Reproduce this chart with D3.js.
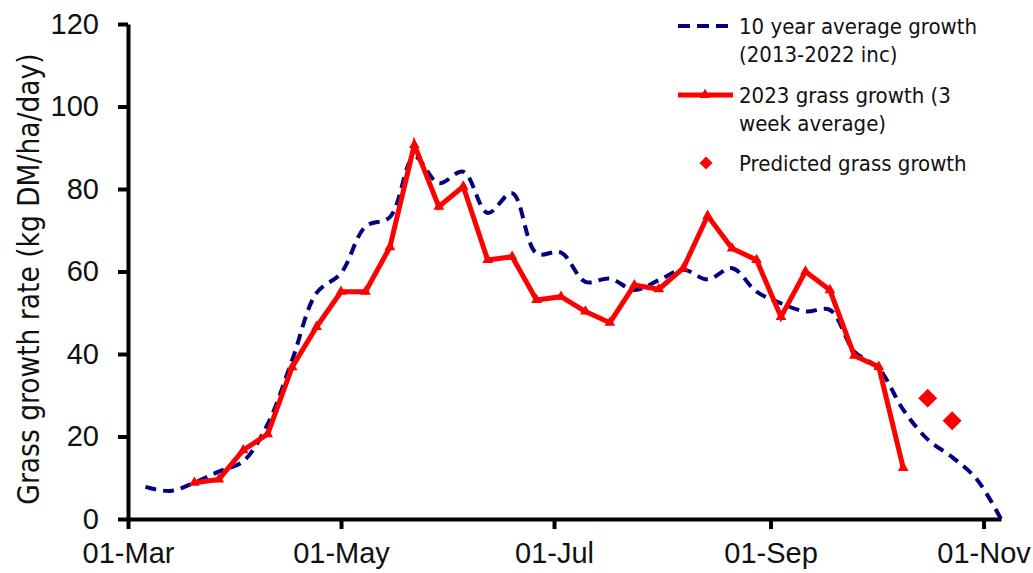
<!DOCTYPE html>
<html>
<head>
<meta charset="utf-8">
<script src="https://cdn.jsdelivr.net/npm/d3@7"></script>
<style>
  body { margin: 0; background: #fff; }
  svg { display: block; font-family: "DejaVu Sans Condensed", "DejaVu Sans", sans-serif; }
  .axis path, .axis line { stroke: #000; stroke-width: 4; }
  .axis text { font-size: 29px; fill: #111; }
  .legend text { font-size: 22px; fill: #111; }
</style>
</head>
<body>
<div id="chart"></div>
<script>
// Weekly dates (Mondays) shared by all series
const weeks = [
  "2023-03-06", "2023-03-13", "2023-03-20", "2023-03-27", "2023-04-03", "2023-04-10",
  "2023-04-17", "2023-04-24", "2023-05-01", "2023-05-08", "2023-05-15", "2023-05-22",
  "2023-05-29", "2023-06-05", "2023-06-12", "2023-06-19", "2023-06-26", "2023-07-03",
  "2023-07-10", "2023-07-17", "2023-07-24", "2023-07-31", "2023-08-07", "2023-08-14",
  "2023-08-21", "2023-08-28", "2023-09-04", "2023-09-11", "2023-09-18", "2023-09-25",
  "2023-10-02", "2023-10-09", "2023-10-16", "2023-10-23", "2023-10-30", "2023-11-06"
];

// 10 year average growth (2013-2022 inc)
const avgGrowth = [
  7.8, 6.8, 8.8, 11.5, 14.0, 23.0,
  38.5, 54.8, 59.6, 70.9, 73.2, 87.8,
  81.4, 84.2, 74.2, 79.0, 64.4, 64.6,
  57.5, 58.3, 55.5, 57.9, 60.4, 58.1,
  60.8, 55.1, 52.3, 50.3, 50.7, 40.6,
  36.5, 26.5, 19.3, 15.0, 9.7, 0
];

// 2023 grass growth (3 week average)
const growth2023 = [
  null, null, 8.8, 9.6, 16.7, 20.6,
  36.8, 46.6, 55.1, 55.1, 65.9, 90.7,
  75.7, 80.6, 62.8, 63.6, 53.1, 53.9,
  50.3, 47.6, 56.7, 55.7, 60.8, 73.5,
  65.6, 62.8, 49.0, 60.0, 55.5, 39.6,
  36.9, 12.4, null, null, null, null
];

// Predicted grass growth
const predicted = [
  null, null, null, null, null, null,
  null, null, null, null, null, null,
  null, null, null, null, null, null,
  null, null, null, null, null, null,
  null, null, null, null, null, null,
  null, null, 29.3, 23.8, null, null
];

const xTicks = ["2023-03-01", "2023-05-01", "2023-07-01", "2023-09-01", "2023-11-01"];
const yTicks = [0, 20, 40, 60, 80, 100, 120];

const legendLabels = [
  ["10 year average growth", "(2013-2022 inc)"],
  ["2023 grass growth (3", "week average)"],
  ["Predicted grass growth"]
];

const parse = d3.timeParse("%Y-%m-%d");
const width = 1033, height = 573;

const svg = d3.select("#chart").append("svg")
  .attr("width", width)
  .attr("height", height);

const x = d3.scaleTime()
  .domain([parse("2023-03-01"), parse("2023-11-06")])
  .range([128, 1001]);

const y = d3.scaleLinear()
  .domain([0, 120])
  .range([519, 24]);

const rows = weeks.map((w, i) => ({
  date: parse(w), avg: avgGrowth[i], cur: growth2023[i], pred: predicted[i]
}));

// Axes
svg.append("g")
  .attr("class", "axis")
  .attr("transform", "translate(0,519)")
  .call(d3.axisBottom(x)
    .tickValues(xTicks.map(parse))
    .tickFormat(d3.timeFormat("%d-%b"))
    .tickSize(10).tickSizeOuter(0).tickPadding(13));

svg.append("g")
  .attr("class", "axis")
  .attr("transform", "translate(128,0)")
  .call(d3.axisLeft(y)
    .tickValues(yTicks)
    .tickSize(10).tickSizeOuter(0).tickPadding(19));

// Y axis title
svg.append("text")
  .attr("transform", "translate(39,279) rotate(-90)")
  .attr("text-anchor", "middle")
  .style("font-size", "29.5px")
  .style("fill", "#111")
  .text("Grass growth rate (kg DM/ha/day)");

// 10 year average (smoothed dashed line)
svg.append("path")
  .datum(rows)
  .attr("fill", "none")
  .attr("stroke", "#000080")
  .attr("stroke-width", 4)
  .attr("stroke-dasharray", "11,7")
  .attr("d", d3.line()
    .x(d => x(d.date))
    .y(d => y(d.avg))
    .curve(d3.curveCatmullRom.alpha(0.5)));

// 2023 growth
const cur = rows.filter(d => d.cur !== null);
svg.append("path")
  .datum(cur)
  .attr("fill", "none")
  .attr("stroke", "#ff0000")
  .attr("stroke-width", 5)
  .attr("stroke-linejoin", "miter")
  .attr("d", d3.line().x(d => x(d.date)).y(d => y(d.cur)));

svg.selectAll(".tri")
  .data(cur)
  .enter().append("path")
  .attr("class", "tri")
  .attr("fill", "#ff0000")
  .attr("transform", d => `translate(${x(d.date)},${y(d.cur)})`)
  .attr("d", d3.symbol(d3.symbolTriangle, 50));

// Predicted diamonds
svg.selectAll(".pred")
  .data(rows.filter(d => d.pred !== null))
  .enter().append("path")
  .attr("class", "pred")
  .attr("fill", "#ff0000")
  .attr("transform", d => `translate(${x(d.date)},${y(d.pred)}) rotate(45)`)
  .attr("d", d3.symbol(d3.symbolSquare, 180));

// Legend
const lg = svg.append("g").attr("class", "legend");
const entryY = [26, 95, 163];

lg.append("line")
  .attr("x1", 678).attr("x2", 730).attr("y1", entryY[0]).attr("y2", entryY[0])
  .attr("stroke", "#000080").attr("stroke-width", 4).attr("stroke-dasharray", "12,7");

lg.append("line")
  .attr("x1", 678).attr("x2", 733).attr("y1", entryY[1]).attr("y2", entryY[1])
  .attr("stroke", "#ff0000").attr("stroke-width", 5);
lg.append("path")
  .attr("fill", "#ff0000")
  .attr("transform", `translate(705,${entryY[1]})`)
  .attr("d", d3.symbol(d3.symbolTriangle, 50));

lg.append("path")
  .attr("fill", "#ff0000")
  .attr("transform", `translate(706,${entryY[2]}) rotate(45)`)
  .attr("d", d3.symbol(d3.symbolSquare, 85));

legendLabels.forEach((lines, i) => {
  lines.forEach((t, j) => {
    lg.append("text")
      .attr("x", 739)
      .attr("y", entryY[i] + j * 28.5)
      .attr("dy", "0.36em")
      .text(t);
  });
});
</script>
</body>
</html>
